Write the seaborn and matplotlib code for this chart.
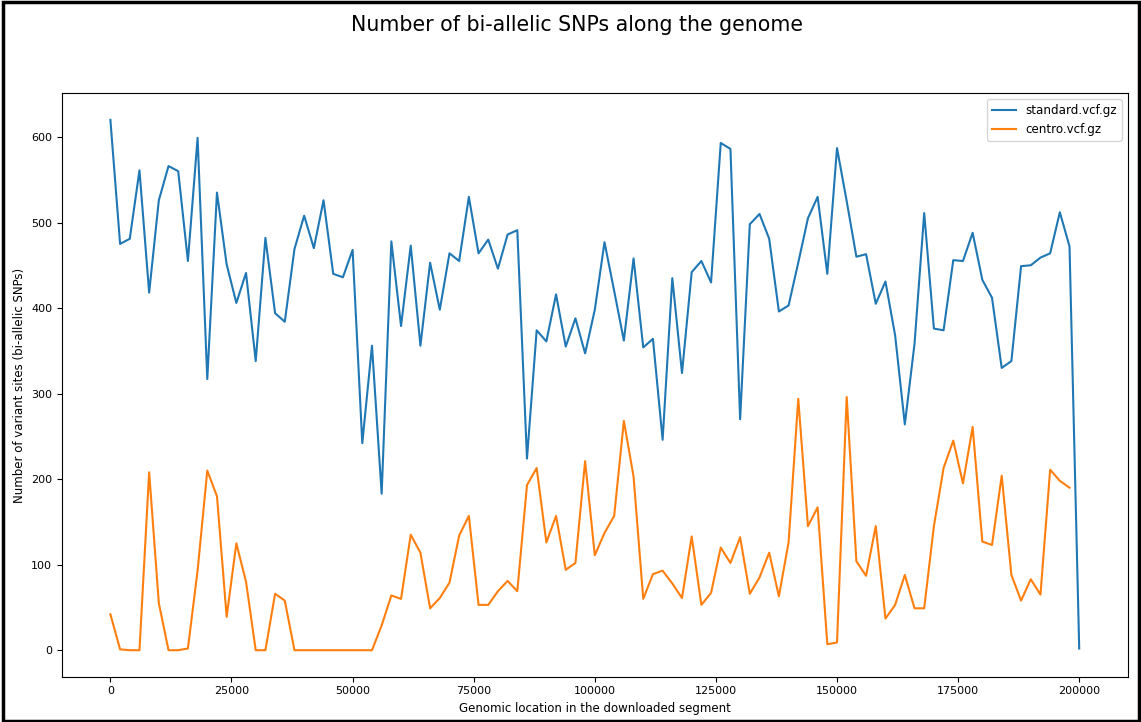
import matplotlib
matplotlib.use("Agg")
import matplotlib.pyplot as plt
from matplotlib.patches import Rectangle
import seaborn as sns
import pandas as pd

# window start positions (2 kb windows)
positions = list(range(0, 200001, 2000))

# bi-allelic SNP counts per window
standard_counts = [
    620, 475, 481, 561, 418, 526, 566, 560, 455, 599,
    317, 535, 451, 406, 441, 338, 482, 394, 384, 469,
    508, 470, 526, 440, 436, 468, 242, 356, 183, 478,
    379, 473, 356, 453, 398, 464, 455, 530, 464, 480,
    446, 486, 491, 224, 374, 361, 416, 355, 388, 347,
    398, 477, 420, 362, 458, 354, 364, 246, 435, 324,
    442, 455, 430, 593, 586, 270, 498, 510, 481, 396,
    403, 453, 505, 530, 440, 587, 525, 460, 463, 405,
    431, 368, 264, 358, 511, 376, 374, 456, 455, 488,
    433, 412, 330, 338, 449, 450, 459, 464, 512, 472,
    2,
]

centro_counts = [
    42, 1, 0, 0, 208, 55, 0, 0, 2, 93,
    210, 180, 39, 125, 80, 0, 0, 66, 58, 0,
    0, 0, 0, 0, 0, 0, 0, 0, 29, 64,
    60, 135, 114, 49, 61, 79, 134, 157, 53, 53,
    69, 81, 69, 193, 213, 126, 157, 94, 102, 221,
    111, 137, 157, 268, 203, 60, 89, 93, 78, 61,
    133, 53, 67, 120, 102, 132, 66, 85, 114, 63,
    126, 294, 145, 167, 7, 9, 296, 104, 87, 145,
    37, 53, 88, 49, 49, 145, 213, 245, 195, 261,
    127, 123, 204, 88, 58, 83, 65, 211, 198, 190,
]

df_std = pd.DataFrame({"pos": positions, "count": standard_counts})
df_cen = pd.DataFrame({"pos": positions[:len(centro_counts)], "count": centro_counts})

fig = plt.figure(figsize=(11.41, 7.22), dpi=100)
ax = fig.add_axes([0.0543, 0.0627, 0.9340, 0.8080])

sns.lineplot(data=df_std, x="pos", y="count", ax=ax, color="#1f77b4",
             label="standard.vcf.gz", linewidth=1.5)
sns.lineplot(data=df_cen, x="pos", y="count", ax=ax, color="#ff7f0e",
             label="centro.vcf.gz", linewidth=1.5)

ax.set_xlabel("Genomic location in the downloaded segment", fontsize=8.5)
ax.set_ylabel("Number of variant sites (bi-allelic SNPs)", fontsize=8.5)
ax.tick_params(labelsize=8)
ax.legend(loc="upper right", fontsize=8.6)

fig.suptitle("Number of bi-allelic SNPs along the genome", fontsize=14.8,
             x=0.506, y=0.965, va="center")

# screenshot-like frame around the figure
fig.patches.append(Rectangle((0.003, 0.002), 0.995, 0.995, transform=fig.transFigure,
                             fill=False, edgecolor="black", linewidth=2.5))

fig.savefig("out.png", dpi=100)
